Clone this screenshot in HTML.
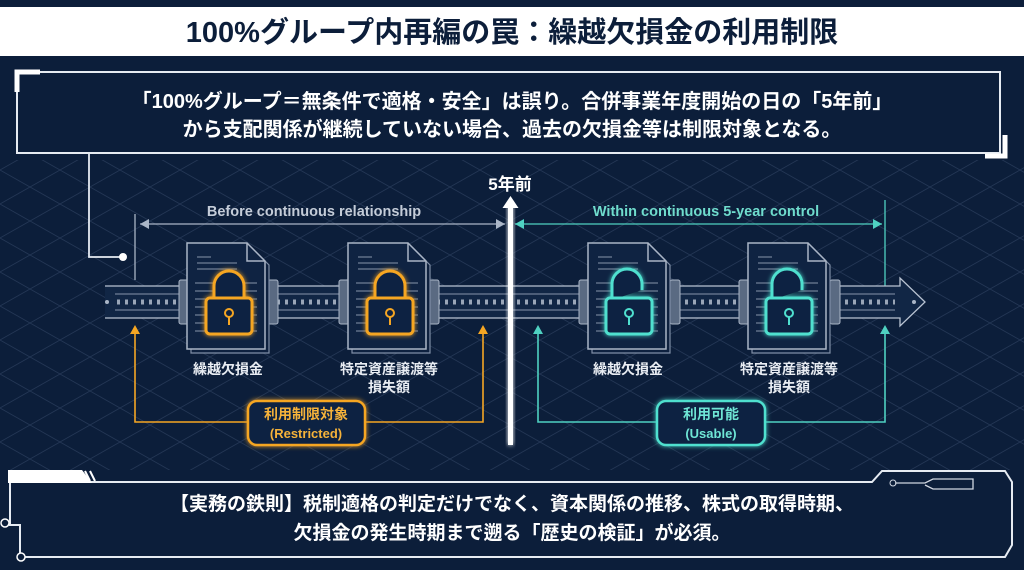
<!DOCTYPE html>
<html><head><meta charset="utf-8"><style>
html,body{margin:0;padding:0;background:#0c1e3a;}
svg{display:block}
text{font-family:"Liberation Sans","Noto Sans CJK JP",sans-serif;}
</style></head><body>
<svg width="1024" height="570" viewBox="0 0 1024 570" xmlns="http://www.w3.org/2000/svg">
<defs>
<pattern id="grid" width="60" height="34" patternUnits="userSpaceOnUse">
<path d="M0 0L60 34M60 0L0 34" stroke="#2a3d5c" stroke-width="0.8" fill="none"/>
</pattern>
<filter id="glow" x="-50%" y="-50%" width="200%" height="200%"><feGaussianBlur stdDeviation="2.5" result="b"/><feMerge><feMergeNode in="b"/><feMergeNode in="SourceGraphic"/></feMerge></filter>
<g id="doc">
<path d="M4 4h60l18 18v88H4z" fill="#0e213f" stroke="#7f8ea6" stroke-width="1.2"/>
<path d="M0 0h60l18 18v88H0z" fill="#0f2342" stroke="#aab5c6" stroke-width="1.5"/>
<path d="M60 0v18h18" fill="none" stroke="#aab5c6" stroke-width="1.5"/>
<path d="M10 14h14M10 20h40M10 26h40M8 40h62M8 48h62M8 56h62M8 64h62M8 72h62M8 80h62M8 88h62" stroke="#8794aa" stroke-width="1"/>
</g>
<g id="clamp"><rect x="-5" y="-22" width="10" height="44" rx="2" fill="#5a6a82" stroke="#aab5c6"/></g>
</defs>
<rect width="1024" height="570" fill="#0c1e3a"/>
<rect y="160" width="1024" height="310" fill="url(#grid)" opacity="0.8"/>
<!-- title -->
<rect x="0" y="7" width="1024" height="49" fill="#fff"/>
<text x="512" y="42" font-size="29" font-weight="bold" fill="#0c1e3a" text-anchor="middle">100%グループ内再編の罠：繰越欠損金の利用制限</text>
<!-- top box -->
<path d="M17 72H1000V153H17z" fill="#0c1e3a" stroke="#e6ebf2" stroke-width="2"/>
<path d="M17 92V72H40" stroke="#fff" stroke-width="5" fill="none"/>
<path d="M1005 135V156H985" stroke="#fff" stroke-width="5" fill="none"/>
<text x="512" y="108" font-size="20" font-weight="bold" fill="#fff" text-anchor="middle">「100%グループ＝無条件で適格・安全」は誤り。合併事業年度開始の日の「5年前」</text>
<text x="512" y="136" font-size="20" font-weight="bold" fill="#fff" text-anchor="middle">から支配関係が継続していない場合、過去の欠損金等は制限対象となる。</text>
<path d="M89 153V257H122" stroke="#e6ebf2" stroke-width="1.8" fill="none"/>
<circle cx="123" cy="257" r="4" fill="#fff"/>
<path d="M135 214V280" stroke="#aab5c6" stroke-width="1.3"/>
<path d="M885 200V300" stroke="#4fd1c1" stroke-width="1.3"/>
<!-- range arrows -->
<path d="M140 224H505" stroke="#aab5c6" stroke-width="1.3"/>
<path d="M140 224l9-5v10z M505 224l-9-5v10z" fill="#aab5c6"/>
<text x="314" y="216" font-size="14.5" font-weight="bold" fill="#c4ccd8" text-anchor="middle">Before continuous relationship</text>
<path d="M515 224H882" stroke="#4fd1c1" stroke-width="1.3"/>
<path d="M515 224l9-5v10z M882 224l-9-5v10z" fill="#4fd1c1"/>
<text x="706" y="216" font-size="14.5" font-weight="bold" fill="#6fdccd" text-anchor="middle">Within continuous 5-year control</text>
<!-- track -->
<path d="M105 286H900V278L925 302L900 326V318H105" fill="#112645" stroke="#b9c3d2" stroke-width="1.3"/>
<path d="M115 294H895M115 310H895" stroke="#8794aa" stroke-width="1"/>
<path d="M117 302H895" stroke="#9aa6b8" stroke-width="5" stroke-dasharray="3 5"/>
<circle cx="107" cy="302" r="2" fill="#aab5c6"/><circle cx="914" cy="302" r="2" fill="#aab5c6"/>
<use href="#clamp" x="184" y="302"/><use href="#clamp" x="273" y="302"/>
<use href="#clamp" x="344" y="302"/><use href="#clamp" x="434" y="302"/>
<use href="#clamp" x="584" y="302"/><use href="#clamp" x="675" y="302"/>
<use href="#clamp" x="744" y="302"/><use href="#clamp" x="835" y="302"/>
<use href="#doc" x="187" y="243"/><use href="#doc" x="348" y="243"/>
<use href="#doc" x="588" y="243"/><use href="#doc" x="748" y="243"/>
<!-- locks closed -->
<g fill="#0f2342" stroke="#f5a623" stroke-width="3" filter="url(#glow)">
<path d="M214 300v-14a15 15 0 0 1 30 0v14"/><rect x="206" y="298" width="46" height="36" rx="4"/>
<path d="M375 300v-14a15 15 0 0 1 30 0v14"/><rect x="367" y="298" width="46" height="36" rx="4"/>
</g>
<g fill="none" stroke="#f5a623" stroke-width="2"><circle cx="229" cy="313" r="4"/><path d="M229 317v8"/><circle cx="390" cy="313" r="4"/><path d="M390 317v8"/></g>
<!-- locks open -->
<g fill="#0f2342" stroke="#4fe0cf" stroke-width="3" filter="url(#glow)">
<path d="M612 300v-16a15 15 0 0 1 30 0v6"/><rect x="606" y="298" width="46" height="36" rx="4"/>
<path d="M772 300v-16a15 15 0 0 1 30 0v6"/><rect x="766" y="298" width="46" height="36" rx="4"/>
</g>
<g fill="none" stroke="#4fe0cf" stroke-width="2"><circle cx="629" cy="313" r="4"/><path d="M629 317v8"/><circle cx="789" cy="313" r="4"/><path d="M789 317v8"/></g>
<!-- labels -->
<g font-size="14" font-weight="bold" fill="#e8ecf2" text-anchor="middle">
<text x="228" y="374">繰越欠損金</text>
<text x="389" y="374">特定資産譲渡等</text><text x="389" y="392">損失額</text>
<text x="628" y="374">繰越欠損金</text>
<text x="789" y="374">特定資産譲渡等</text><text x="789" y="392">損失額</text>
</g>
<!-- vertical 5 years line -->
<rect x="508" y="205" width="5" height="240" fill="#fff" filter="url(#glow)"/>
<path d="M510.5 196l-8 12h16z" fill="#fff"/>
<text x="510" y="190" font-size="17" font-weight="bold" fill="#fff" text-anchor="middle">5年前</text>
<!-- orange bracket -->
<path d="M135 332V422H248M365 422H483V332" stroke="#f5a623" stroke-width="1.6" fill="none"/>
<path d="M135 325l-5 9h10zM483 325l-5 9h10z" fill="#f5a623"/>
<rect x="248" y="401" width="117" height="44" rx="9" fill="#0f2342" stroke="#f5a623" stroke-width="2.5" filter="url(#glow)"/>
<text x="306" y="419" font-size="14" font-weight="bold" fill="#f5b23a" text-anchor="middle">利用制限対象</text>
<text x="306" y="438" font-size="13" font-weight="bold" fill="#f5b23a" text-anchor="middle">(Restricted)</text>
<!-- teal bracket -->
<path d="M538 332V422H657M765 422H885V332" stroke="#4fd1c1" stroke-width="1.6" fill="none"/>
<path d="M538 325l-5 9h10zM885 325l-5 9h10z" fill="#4fd1c1"/>
<rect x="657" y="401" width="108" height="44" rx="9" fill="#0f2342" stroke="#4fe0cf" stroke-width="2.5" filter="url(#glow)"/>
<text x="711" y="419" font-size="14" font-weight="bold" fill="#6fe6d6" text-anchor="middle">利用可能</text>
<text x="711" y="438" font-size="13" font-weight="bold" fill="#6fe6d6" text-anchor="middle">(Usable)</text>
<!-- bottom box -->
<path d="M10 482H872L882 471H1005L1012 482V545L1005 557H20V525H10z" fill="#0c1e3a" stroke="#e6ebf2" stroke-width="2"/>
<path d="M8 483V470H82L92 483" fill="#fff"/>
<path d="M85 471l5 10M90 471l5 10" stroke="#fff" stroke-width="2"/>
<circle cx="5" cy="523" r="4" fill="#0c1e3a" stroke="#fff" stroke-width="1.5"/>
<circle cx="21" cy="557" r="4" fill="#0c1e3a" stroke="#fff" stroke-width="1.5"/>
<path d="M895 483h30l8-4h40v10h-40l-8-4" fill="none" stroke="#d0d6e0" stroke-width="1.3"/>
<circle cx="893" cy="483" r="3" fill="none" stroke="#d0d6e0"/>
<text x="512" y="510" font-size="19" font-weight="bold" fill="#fff" text-anchor="middle">【実務の鉄則】税制適格の判定だけでなく、資本関係の推移、株式の取得時期、</text>
<text x="512" y="539" font-size="19" font-weight="bold" fill="#fff" text-anchor="middle">欠損金の発生時期まで遡る「歴史の検証」が必須。</text>
</svg>
</body></html>
